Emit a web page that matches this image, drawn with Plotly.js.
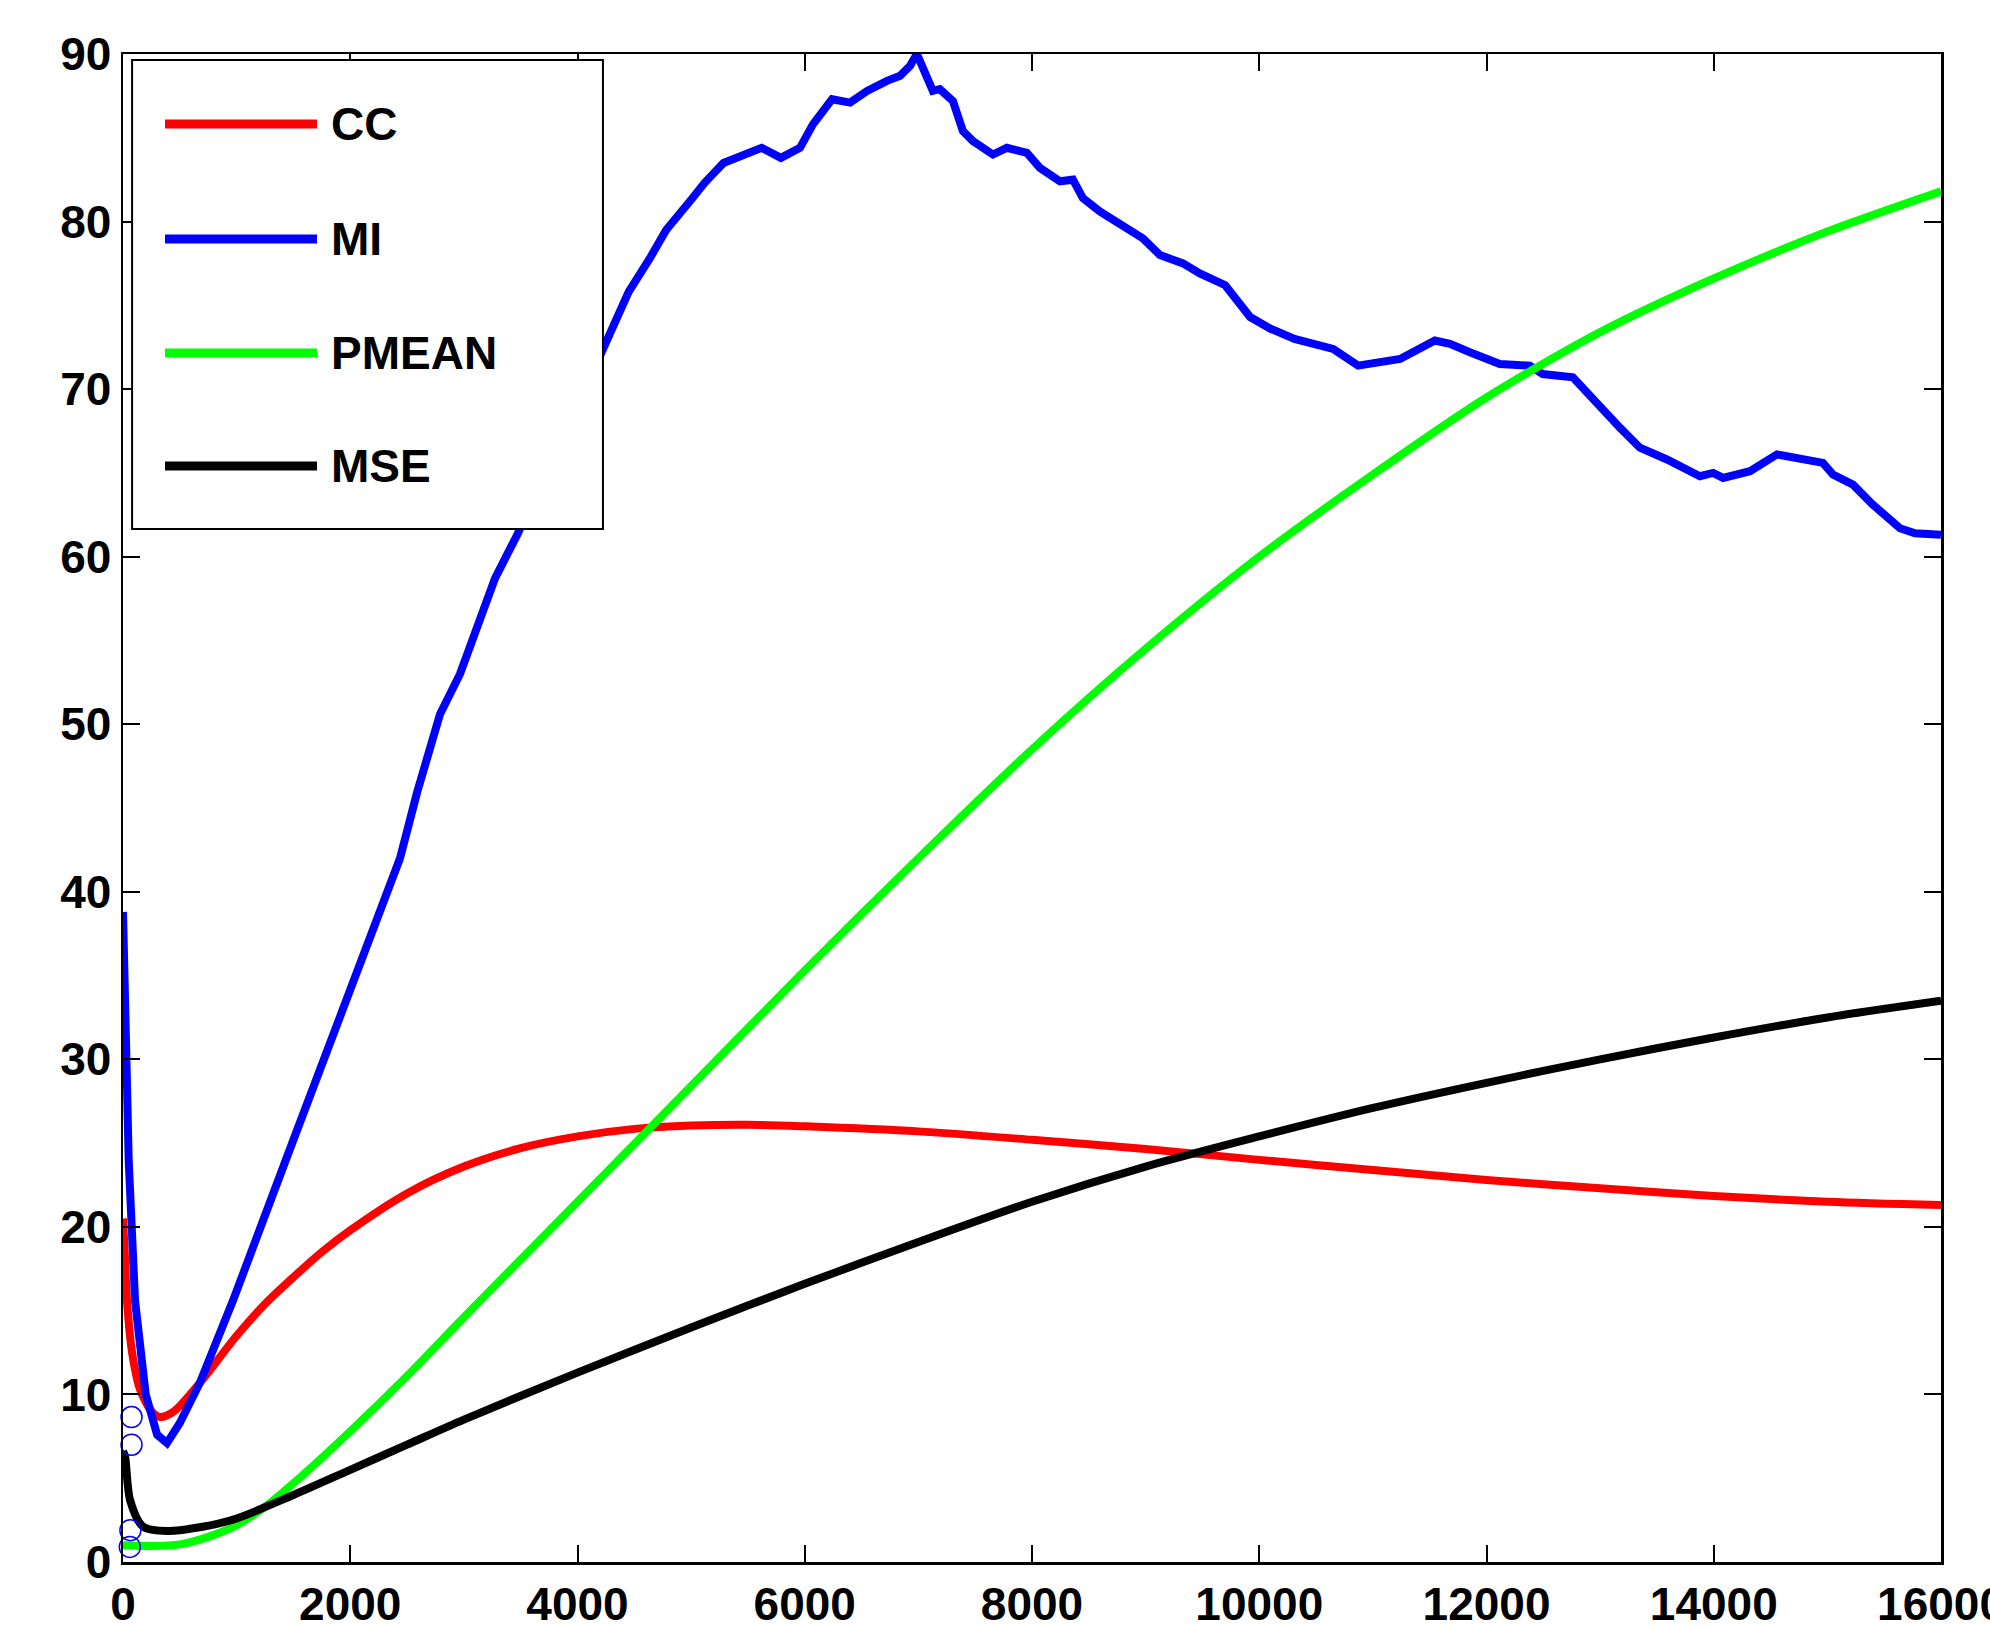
<!DOCTYPE html>
<html>
<head>
<meta charset="utf-8">
<script src="https://cdn.plot.ly/plotly-3.0.1.min.js"></script>
<style>html,body{margin:0;padding:0;background:#fff;overflow:hidden;}#chart{width:1990px;height:1629px;}</style>
</head>
<body>
<div id="chart"></div>
<script>
// ---- Data ----
const seriesNames = ["CC", "MI", "PMEAN", "MSE"];
const seriesColors = ["#ff0000", "#0000ff", "#00ff00", "#000000"];

const ccX = [0, 15, 35, 80, 150, 250, 326, 450, 677, 1000, 1250, 1500, 1750, 2000, 2500, 3000, 3500, 4000, 4500, 5000, 5500, 6000, 7000, 8000, 9000, 10000, 11000, 12000, 13000, 14000, 15000, 16000];
const ccY = [20.5, 18.5, 15.6, 12.5, 10.3, 9.0, 8.65, 9.0, 10.7, 13.5, 15.4, 17.0, 18.5, 19.8, 22.0, 23.6, 24.7, 25.4, 25.85, 26.05, 26.1, 26.0, 25.7, 25.2, 24.65, 24.0, 23.4, 22.8, 22.3, 21.85, 21.5, 21.3];

const miX = [0, 15, 30, 50, 75, 106, 200, 300, 387, 500, 677, 968, 1500, 2000, 2438, 2587, 2790, 2966, 3274, 3476, 3700, 3900, 4100, 4224, 4450, 4636, 4780, 5000, 5117, 5285, 5450, 5620, 5790, 5958, 6072, 6240, 6399, 6549, 6724, 6839, 6927, 6987, 7127, 7189, 7304, 7392, 7480, 7656, 7779, 7955, 8070, 8246, 8360, 8448, 8597, 8773, 8976, 9126, 9329, 9477, 9700, 9920, 10100, 10310, 10650, 10870, 11090, 11239, 11546, 11678, 11854, 12117, 12381, 12495, 12760, 12998, 13174, 13350, 13588, 13878, 13994, 14082, 14319, 14557, 14759, 14961, 15049, 15225, 15401, 15639, 15771, 16000];
const miY = [38.8, 36, 30, 24, 19, 15.6, 10.0, 7.6, 7.1, 8.3, 10.7, 15.6, 25.2, 34.2, 42.0, 45.9, 50.6, 53.0, 58.7, 61.4, 65.0, 68.0, 70.5, 72.3, 75.8, 77.8, 79.5, 81.3, 82.3, 83.5, 83.9, 84.4, 83.8, 84.4, 85.8, 87.3, 87.1, 87.8, 88.4, 88.7, 89.3, 90.0, 87.8, 87.9, 87.2, 85.4, 84.8, 84.0, 84.4, 84.1, 83.2, 82.4, 82.5, 81.4, 80.6, 79.8, 79.0, 78.0, 77.5, 76.9, 76.2, 74.3, 73.6, 73.0, 72.4, 71.4, 71.6, 71.8, 72.9, 72.7, 72.2, 71.5, 71.4, 70.9, 70.7, 68.9, 67.7, 66.5, 65.8, 64.8, 65.0, 64.7, 65.1, 66.1, 65.8, 65.6, 64.9, 64.3, 63.1, 61.7, 61.4, 61.3];

const pmeanX = [0, 250, 500, 750, 1000, 1250, 1500, 2000, 2500, 3000, 4000, 5000, 6000, 7000, 8000, 9000, 10000, 11000, 12000, 13000, 14000, 15000, 16000];
const pmeanY = [1.0, 0.95, 1.05, 1.5, 2.2, 3.3, 4.7, 7.8, 11.1, 14.6, 21.5, 28.4, 35.3, 42.0, 48.5, 54.5, 60.0, 64.9, 69.5, 73.4, 76.6, 79.4, 81.8];

const mseX = [0, 18, 62, 178, 389, 700, 1000, 1500, 2000, 2500, 3000, 4000, 5000, 6000, 7000, 8000, 9000, 10000, 11000, 12000, 13000, 14000, 15000, 16000];
const mseY = [6.6, 6.3, 3.7, 2.1, 1.85, 2.1, 2.6, 4.0, 5.5, 7.0, 8.5, 11.3, 14.0, 16.6, 19.1, 21.5, 23.6, 25.4, 27.1, 28.6, 30.0, 31.3, 32.5, 33.5];

// open circle markers near x = 0
const circleX = [75, 75, 65, 60];
const circleY = [8.65, 7.0, 1.9, 0.9];

// axis ticks
const xTicks = [0, 2000, 4000, 6000, 8000, 10000, 12000, 14000, 16000];
const yTicks = [0, 10, 20, 30, 40, 50, 60, 70, 80, 90];

// ---- Chart ----
const lineW = 8;
const xs = [ccX, miX, pmeanX, mseX];
const ys = [ccY, miY, pmeanY, mseY];
const shapesLine = ['spline', 'linear', 'spline', 'spline'];
const traces = seriesNames.map((n, i) => ({
  type: 'scatter', mode: 'lines', name: n,
  x: xs[i], y: ys[i],
  line: {color: seriesColors[i], width: lineW, shape: shapesLine[i], smoothing: 0.8},
  showlegend: false, hoverinfo: 'skip'
}));
traces.push({
  type: 'scatter', mode: 'markers', name: 'points',
  x: circleX, y: circleY,
  marker: {symbol: 'circle-open', size: 21, color: '#0000ff', line: {width: 1.5, color: '#0000ff'}},
  showlegend: false, hoverinfo: 'skip', cliponaxis: false
});

const font = {family: '"Liberation Sans", Arial, sans-serif', size: 46, color: '#000'};

// manual MATLAB-style legend
const shapes = [{
  type: 'rect', xref: 'paper', yref: 'paper',
  x0: 0.005, x1: 0.264, y0: 0.685, y1: 0.996,
  line: {color: '#000', width: 2}, fillcolor: '#fff', layer: 'above'
}];
const annotations = [];
const legY = [0.9536, 0.8773, 0.8017, 0.7268];
seriesNames.forEach((n, i) => {
  shapes.push({
    type: 'line', xref: 'paper', yref: 'paper',
    x0: 0.0231, x1: 0.1067, y0: legY[i], y1: legY[i],
    line: {color: seriesColors[i], width: 9}, layer: 'above'
  });
  annotations.push({
    xref: 'paper', yref: 'paper', x: 0.1135, y: legY[i],
    xanchor: 'left', yanchor: 'middle', showarrow: false,
    text: '<b>' + n + '</b>', font: font
  });
});

const layout = {
  width: 1990, height: 1629,
  margin: {l: 123, r: 49, t: 54, b: 67, pad: 0},
  paper_bgcolor: '#fff', plot_bgcolor: '#fff',
  showlegend: false,
  font: font,
  xaxis: {
    range: [0, 16000], tickvals: xTicks, ticktext: xTicks.map(v => '<b>' + v + '</b>'),
    ticks: 'inside', ticklen: 17, tickwidth: 2, tickcolor: '#000',
    showline: true, linecolor: '#000', linewidth: 2.5, mirror: 'ticks',
    showgrid: false, zeroline: false, tickfont: font, automargin: false,
    ticklabeloverflow: 'allow'
  },
  yaxis: {
    range: [0, 90], tickvals: yTicks, ticktext: yTicks.map(v => '<b>' + v + '</b>'),
    ticks: 'inside', ticklen: 17, tickwidth: 2, tickcolor: '#000',
    showline: true, linecolor: '#000', linewidth: 2.5, mirror: 'ticks',
    showgrid: false, zeroline: false, tickfont: font, automargin: false,
    ticklabeloverflow: 'allow'
  },
  shapes: shapes,
  annotations: annotations
};

Plotly.newPlot('chart', traces, layout, {displayModeBar: false, staticPlot: true});
</script>
</body>
</html>
